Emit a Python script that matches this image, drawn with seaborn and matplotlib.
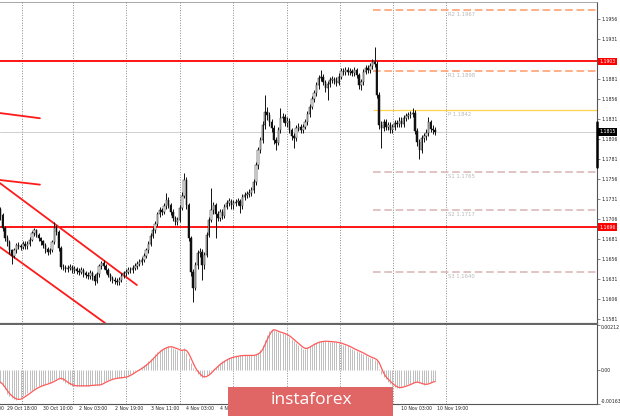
import numpy as np
import pandas as pd
import matplotlib
matplotlib.use("Agg")
import matplotlib.pyplot as plt
import matplotlib.transforms as mtransforms
from matplotlib.patches import Rectangle
import seaborn as sns

# ---------------- data (EURUSD H1) ----------------
# prices given in pips above 1.1500
first_open_pip = 218
close_pips = [
    211, 195, 182, 177, 167, 160, 167, 173, 172, 171,
    175, 172, 175, 180, 188, 192, 186, 182, 178, 173,
    168, 165, 167, 177, 195, 190, 170, 146, 146, 143,
    145, 146, 142, 143, 141, 140, 142, 138, 136, 135,
    138, 135, 129, 137, 147, 151, 147, 142, 136, 132,
    130, 129, 127, 130, 135, 138, 140, 142, 142, 145,
    147, 150, 152, 155, 160, 167, 175, 185, 192, 200,
    212, 217, 215, 222, 230, 223, 215, 207, 202, 205,
    220, 235, 255, 223, 182, 140, 120, 148, 163, 165,
    148, 161, 186, 205, 217, 223, 212, 207, 215, 210,
    221, 226, 228, 223, 226, 227, 228, 222, 233, 236,
    237, 239, 242, 252, 273, 292, 305, 323, 340, 336,
    327, 320, 305, 301, 317, 332, 334, 326, 329, 317,
    310, 307, 320, 321, 317, 321, 327, 337, 346, 356,
    363, 373, 382, 384, 377, 370, 375, 380, 381, 379,
    376, 384, 391, 390, 392, 390, 391, 389, 392, 386,
    373, 377, 390, 395, 392, 397, 402, 400, 361, 323,
    320, 327, 321, 323, 317, 321, 326, 325, 329, 325,
    332, 335, 336, 337, 339, 316, 302, 292, 307, 310,
    314, 327, 319, 317, 315]
high_pips = [
    221, 213, 197, 186, 180, 169, 170, 176, 177, 175,
    179, 178, 178, 183, 191, 195, 194, 189, 184, 180,
    176, 171, 170, 180, 202, 198, 192, 172, 150, 149,
    148, 150, 149, 147, 146, 145, 146, 145, 141, 140,
    142, 141, 137, 140, 150, 154, 155, 150, 145, 139,
    135, 134, 132, 133, 138, 141, 143, 146, 146, 148,
    151, 153, 156, 158, 163, 170, 178, 188, 196, 204,
    215, 221, 220, 226, 238, 233, 226, 218, 210, 209,
    224, 240, 263, 258, 226, 185, 143, 152, 167, 170,
    168, 165, 190, 209, 245, 227, 226, 216, 219, 218,
    225, 230, 232, 231, 230, 231, 232, 231, 237, 240,
    241, 243, 246, 256, 277, 296, 309, 328, 361, 346,
    340, 331, 323, 309, 321, 345, 339, 337, 333, 332,
    320, 313, 324, 326, 325, 325, 331, 341, 350, 360,
    367, 377, 386, 392, 387, 380, 379, 384, 385, 384,
    383, 388, 395, 395, 396, 396, 395, 394, 396, 395,
    389, 381, 393, 398, 399, 401, 406, 421, 404, 365,
    328, 331, 331, 327, 327, 325, 330, 330, 333, 333,
    336, 339, 340, 341, 345, 342, 320, 306, 311, 314,
    318, 334, 330, 323, 321]
low_pips = [
    205, 191, 178, 172, 162, 150, 157, 164, 168, 167,
    168, 169, 169, 172, 178, 185, 183, 179, 174, 170,
    164, 161, 162, 165, 175, 186, 166, 143, 142, 140,
    140, 142, 139, 139, 137, 136, 137, 134, 132, 131,
    131, 130, 123, 126, 134, 143, 144, 139, 133, 128,
    126, 125, 123, 124, 127, 132, 135, 137, 138, 139,
    142, 144, 147, 149, 152, 157, 164, 172, 182, 189,
    197, 208, 211, 212, 219, 220, 211, 203, 198, 199,
    202, 217, 232, 219, 178, 135, 102, 117, 144, 158,
    130, 144, 158, 183, 202, 212, 182, 203, 204, 206,
    207, 218, 222, 219, 219, 222, 223, 213, 219, 230,
    232, 233, 235, 239, 249, 269, 288, 301, 319, 330,
    322, 315, 300, 292, 298, 313, 327, 322, 321, 313,
    305, 295, 304, 316, 313, 313, 318, 324, 333, 343,
    352, 360, 369, 378, 373, 365, 355, 371, 376, 375,
    372, 373, 381, 386, 386, 386, 386, 385, 385, 382,
    369, 367, 374, 387, 388, 388, 393, 396, 357, 318,
    295, 316, 317, 317, 313, 313, 317, 321, 321, 321,
    321, 328, 331, 332, 333, 312, 297, 281, 288, 302,
    305, 310, 315, 312, 311]
# MACD histogram and signal, in units of 1e-5
macd_e5 = [
    -64, -80, -95, -115, -126, -135, -142, -146, -142, -135,
    -128, -122, -113, -105, -98, -91, -85, -80, -77, -73,
    -70, -66, -63, -57, -50, -44, -39, -46, -54, -62,
    -68, -73, -77, -78, -78, -78, -78, -78, -78, -77,
    -76, -75, -74, -74, -73, -67, -61, -56, -51, -46,
    -43, -42, -40, -39, -38, -36, -34, -28, -22, -16,
    -7, -2, 5, 13, 20, 29, 40, 50, 62, 73,
    84, 95, 101, 105, 110, 112, 109, 104, 100, 94,
    89, 95, 102, 78, 55, 30, 7, -8, -20, -30,
    -39, -35, -28, -20, -8, 2, 14, 24, 34, 40,
    47, 52, 58, 60, 62, 64, 66, 68, 68, 68,
    68, 68, 68, 70, 76, 81, 95, 120, 144, 165,
    185, 195, 188, 183, 180, 177, 174, 170, 163, 155,
    146, 136, 127, 118, 108, 100, 100, 108, 115, 120,
    126, 131, 134, 136, 136, 136, 135, 134, 133, 132,
    131, 128, 124, 120, 116, 112, 106, 100, 94, 90,
    85, 80, 74, 68, 62, 58, 54, 48, 40, 5,
    -20, -36, -47, -58, -68, -78, -84, -88, -86, -82,
    -79, -76, -71, -67, -62, -58, -61, -65, -69, -72,
    -71, -66, -61, -57, -54]
signal_e5 = [
    -60, -70, -84, -100, -114, -125, -134, -140, -143, -142,
    -137, -130, -123, -115, -107, -99, -92, -86, -81, -77,
    -73, -70, -66, -62, -57, -51, -45, -42, -45, -52,
    -60, -67, -72, -76, -78, -78, -78, -78, -78, -78,
    -77, -76, -75, -74, -74, -72, -67, -61, -56, -51,
    -47, -44, -42, -40, -39, -38, -36, -33, -28, -22,
    -15, -8, -2, 5, 12, 20, 29, 39, 50, 61,
    72, 83, 92, 99, 104, 108, 110, 108, 104, 100,
    95, 92, 95, 92, 78, 56, 32, 10, -7, -19,
    -30, -35, -33, -27, -18, -7, 4, 14, 24, 32,
    39, 46, 52, 56, 59, 62, 64, 66, 67, 68,
    68, 68, 68, 68, 70, 75, 82, 96, 118, 142,
    164, 182, 191, 189, 184, 180, 177, 173, 168, 162,
    154, 145, 135, 126, 117, 108, 102, 102, 107, 114,
    120, 125, 130, 133, 135, 136, 136, 135, 134, 133,
    132, 130, 128, 124, 120, 116, 111, 106, 100, 95,
    90, 85, 80, 74, 68, 63, 58, 54, 48, 35,
    10, -15, -33, -45, -56, -66, -75, -82, -86, -86,
    -83, -80, -76, -72, -67, -62, -60, -62, -66, -69,
    -71, -69, -65, -60, -57]

red_levels = [1.1903, 1.1696]
current_price = 1.1815
pivot_names = ["R2", "R1", "P", "S1", "S2", "S3"]
pivot_values = [1.1967, 1.1891, 1.1842, 1.1765, 1.1717, 1.1640]
pivot_label_values = ["1.1967", "1.1898", "1.1842", "1.1765", "1.1717", "1.1640"]
pivot_start_bar = 166.3
pivot_label_bar = 200
# trend lines: (bar0, price0, bar1, price1)
trend_lines = [
    (-0.3, 1.18385, 17.6, 1.1832),
    (-0.3, 1.17548, 17.6, 1.1749),
    (-0.3, 1.1751, 60.9, 1.16235),
    (-0.3, 1.1671, 46.7, 1.1576),
]
day_separator_bars = [9.6, 32.4, 56, 80.1, 103.8, 127.9, 151.6, 175.2, 198.9]
time_labels = ["29 Oct 02:00", "29 Oct 18:00", "30 Oct 10:00", "2 Nov 03:00",
               "2 Nov 19:00", "3 Nov 11:00", "4 Nov 03:00", "4 Nov 19:00",
               "10 Nov 03:00", "10 Nov 19:00"]
time_label_bars = [-12, 3, 19, 35, 51, 67, 83, 98, 179, 195]
price_ticks = [1.1581, 1.1606, 1.1631, 1.1656, 1.1681, 1.1706, 1.1731, 1.1756,
               1.1781, 1.1806, 1.1831, 1.1856, 1.1881, 1.1931, 1.1956]
macd_ticks = [0.00212, 0.0, -0.00163]
macd_tick_labels = ["0.00212", "0.00", "-0.00163"]
spread_marker = (1.1827, 1.1771)

# ---------------- build table ----------------
N = len(close_pips)
close = 1.15 + np.array(close_pips) / 1e4
opens = np.concatenate([[1.15 + first_open_pip / 1e4], close[:-1]])
df = pd.DataFrame({
    "bar": np.arange(N),
    "open": opens,
    "high": 1.15 + np.array(high_pips) / 1e4,
    "low": 1.15 + np.array(low_pips) / 1e4,
    "close": close,
    "macd": np.array(macd_e5) * 1e-5,
    "signal": np.array(signal_e5) * 1e-5,
})

# ---------------- figure ----------------
sns.set_theme(style="white")
plt.rcParams["font.family"] = ["DejaVu Sans"]
W, H = 620, 416
fig = plt.figure(figsize=(6.2, 4.16), dpi=100)
fig.patch.set_facecolor("white")

def fx(px):
    return px / W

def fy(py):
    return 1 - py / H

ax = fig.add_axes([0, fy(324), fx(597), (324 - 2) / H])
ax2 = fig.add_axes([0, fy(404), fx(597), (404 - 325) / H])
XMIN, XMAX = -0.22, 266.3
for a in (ax, ax2):
    a.set_facecolor("white")
    a.set_xlim(XMIN, XMAX)
    a.set_xticks([])
    a.spines["left"].set_visible(False)
    a.spines["right"].set_color("#555555")
    a.spines["right"].set_linewidth(0.8)
    a.yaxis.tick_right()
    a.tick_params(axis="y", labelsize=3.3, length=2, width=0.5, pad=1,
                  colors="#555555", labelcolor="#222222")
    for b in day_separator_bars:
        a.axvline(b, color="#8a8a8a", lw=0.7, ls=(0, (1, 1.6)), zorder=0)

ax.spines["top"].set_color("#999999")
ax.spines["top"].set_linewidth(0.6)
ax.spines["bottom"].set_color("#666666")
ax.spines["bottom"].set_linewidth(1.6)
ax2.spines["top"].set_visible(False)
ax2.spines["bottom"].set_color("#555555")
ax2.spines["bottom"].set_linewidth(0.8)

ax.set_ylim(1.15748, 1.19773)
ax.set_yticks(price_ticks)
ax.set_yticklabels([f"{t:.4f}" for t in price_ticks])

# horizontal levels
ax.axhline(current_price, color="#c8c8c8", lw=0.6, zorder=0.5)
for lvl in red_levels:
    ax.axhline(lvl, color="#ff1414", lw=1.4, zorder=1)

pivot_colors = {"R": "#ff9a66", "P": "#ffd24d", "S": "#d9b3b3"}
for name, val, lab in zip(pivot_names, pivot_values, pivot_label_values):
    col = pivot_colors[name[0]]
    if name == "P":
        ax.hlines(val, pivot_start_bar, XMAX, color=col, lw=0.9, zorder=1)
    else:
        ax.hlines(val, pivot_start_bar, XMAX, color=col, lw=1.1,
                  linestyles=(0, (5, 2.4)), zorder=1)
    ax.annotate(f"{name} {lab}", (pivot_label_bar, val), xytext=(0, -1.2),
                textcoords="offset points", fontsize=3.8, color="#b8b8b8",
                ha="left", va="top")

# trend lines
for (b0, p0, b1, p1) in trend_lines:
    sns.lineplot(x=[b0, b1], y=[p0, p1], ax=ax, color="#ff1a1a", lw=1.3,
                 sort=False, zorder=2)

# candles
ax.vlines(df["bar"], df["low"], df["high"], color="#111111", lw=0.7, zorder=3)
bull = df["close"] >= df["open"]
body_lo = np.minimum(df["open"], df["close"])
body_h = np.maximum(np.abs(df["close"] - df["open"]), 0.00004)
ax.bar(df["bar"][bull], body_h[bull], bottom=body_lo[bull], width=0.6,
       color="white", edgecolor="#111111", linewidth=0.35, zorder=4)
ax.bar(df["bar"][~bull], body_h[~bull], bottom=body_lo[~bull], width=0.6,
       color="#111111", edgecolor="#111111", linewidth=0.35, zorder=4)
ax.set_xlabel("")
ax.set_ylabel("")

# right-side price boxes
tr = mtransforms.blended_transform_factory(ax.transAxes, ax.transData)
for lvl in red_levels:
    ax.text(1.004, lvl, f"{lvl:.4f}", transform=tr, fontsize=3.3, color="white",
            ha="left", va="center", clip_on=False, zorder=10,
            bbox=dict(boxstyle="square,pad=0.3", fc="#ff0000", ec="none"))
ax.text(1.004, current_price, f"{current_price:.4f}", transform=tr, fontsize=3.3,
        color="white", ha="left", va="center", clip_on=False, zorder=10,
        bbox=dict(boxstyle="square,pad=0.3", fc="#000000", ec="none"))
ax.plot([1.0, 1.0], list(spread_marker), transform=tr, color="black", lw=1.8,
        clip_on=False, zorder=9)

# MACD panel
ax2.set_ylim(-0.00165, 0.00214)
ax2.vlines(df["bar"], 0, df["macd"], color="#bdbdbd", lw=0.7, zorder=2)
sns.lineplot(data=df, x="bar", y="signal", ax=ax2, color="#ff5a5a", lw=0.9, zorder=3)
ax2.set_xlim(XMIN, XMAX)
ax2.set_xlabel("")
ax2.set_ylabel("")
ax2.set_yticks(macd_ticks)
ax2.set_yticklabels(macd_tick_labels)
ylabels = ax2.get_yticklabels()
ylabels[0].set_va("top")
ylabels[-1].set_va("bottom")

# time axis labels
trd = mtransforms.blended_transform_factory(ax2.transData, ax2.transAxes)
for b, lab in zip(time_label_bars, time_labels):
    ax2.text(b, -0.03, lab, transform=trd, fontsize=3.3, color="#222222",
             ha="left", va="top", clip_on=False)

# watermark logo
fig.add_artist(Rectangle((fx(228), 0), fx(393) - fx(228), 29 / H,
                         transform=fig.transFigure, fc="#e06666", ec="none",
                         zorder=20))
fig.text(fx(311), fy(400), "instaforex", fontsize=12.5, color="white",
         ha="center", va="center", zorder=21, family=["Open Sans", "DejaVu Sans"])

fig.savefig("out.png", dpi=100)
